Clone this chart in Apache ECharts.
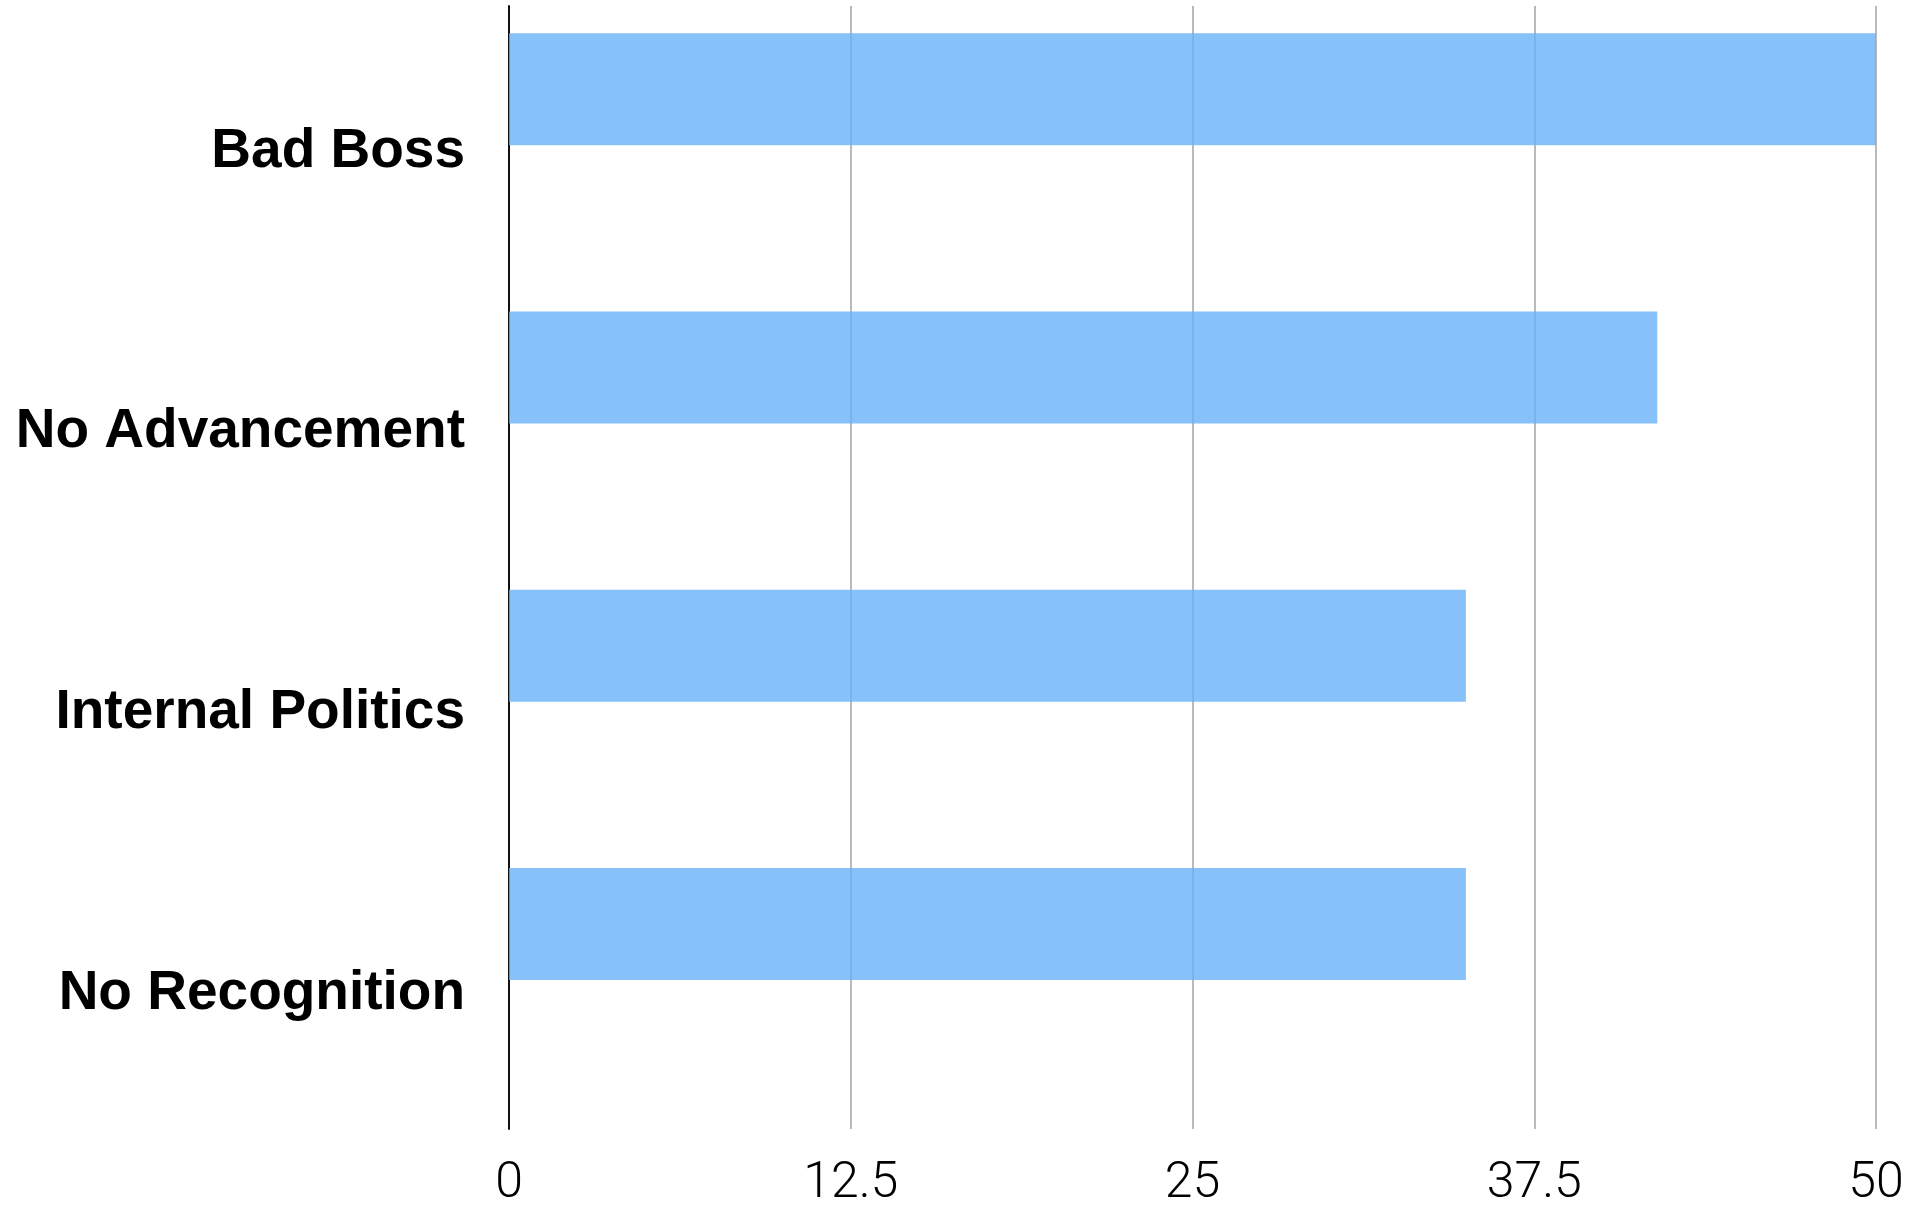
<!DOCTYPE html>
<html>
<head>
<meta charset="utf-8">
<script src="https://cdn.jsdelivr.net/npm/echarts@6/dist/echarts.min.js"></script>
<style>html,body{margin:0;padding:0;background:#fff}#c{width:1913px;height:1210px}</style>
</head>
<body>
<div id="c"></div>
<script>
const categories = ['Bad Boss', 'No Advancement', 'Internal Politics', 'No Recognition'];
const values = [50, 42, 35, 35];
const emptyValues = [null, null, null, null];
const tickInterval = 12.5;
const axisMin = 0;
const axisMax = 50;

const chart = echarts.init(document.getElementById('c'), null, {renderer: 'canvas'});
chart.setOption({
  animation: false,
  backgroundColor: '#ffffff',
  grid: [
    {left: 509, right: 37, top: 6, bottom: 81, containLabel: false},
    {left: 509, right: 37, top: 6, bottom: 91, containLabel: false},
    {left: 509, right: 37, top: 11, bottom: 76, containLabel: false}
  ],
  xAxis: [
    {
      gridIndex: 0, type: 'value', min: axisMin, max: axisMax, interval: tickInterval,
      axisLine: {show: false}, axisTick: {show: false},
      splitLine: {show: true, lineStyle: {color: '#bababa', width: 2}},
      axisLabel: {color: '#000', fontSize: 50, fontFamily: 'Roboto', fontWeight: 300, margin: 30,
        formatter: v => String(v)}
    },
    {
      gridIndex: 1, type: 'value', min: axisMin, max: axisMax, interval: tickInterval,
      show: false, splitLine: {show: false}
    },
    {
      gridIndex: 2, type: 'value', min: axisMin, max: axisMax, interval: tickInterval,
      show: false, splitLine: {show: false}
    }
  ],
  yAxis: [
    {
      gridIndex: 0, type: 'category', data: categories, inverse: true,
      axisLine: {show: true, onZero: false, lineStyle: {color: '#111', width: 2}},
      axisTick: {show: false},
      splitLine: {show: false},
      axisLabel: {show: false}
    },
    {
      gridIndex: 1, type: 'category', data: categories, inverse: true, show: false
    },
    {
      gridIndex: 2, type: 'category', data: categories, inverse: true,
      axisLine: {show: false}, axisTick: {show: false}, splitLine: {show: false},
      axisLabel: {color: '#000', fontSize: 55, fontWeight: 'bold', fontFamily: 'Liberation Sans',
        margin: 44}
    }
  ],
  series: [
    {type: 'bar', xAxisIndex: 1, yAxisIndex: 1, data: values, barWidth: 112, barGap: '0%',
     itemStyle: {color: '#68B2F8', opacity: 0.8}},
    {type: 'bar', xAxisIndex: 1, yAxisIndex: 1, data: emptyValues, barWidth: 112, barGap: '0%',
     itemStyle: {color: '#68B2F8', opacity: 0.8}}
  ]
});
</script>
</body>
</html>
